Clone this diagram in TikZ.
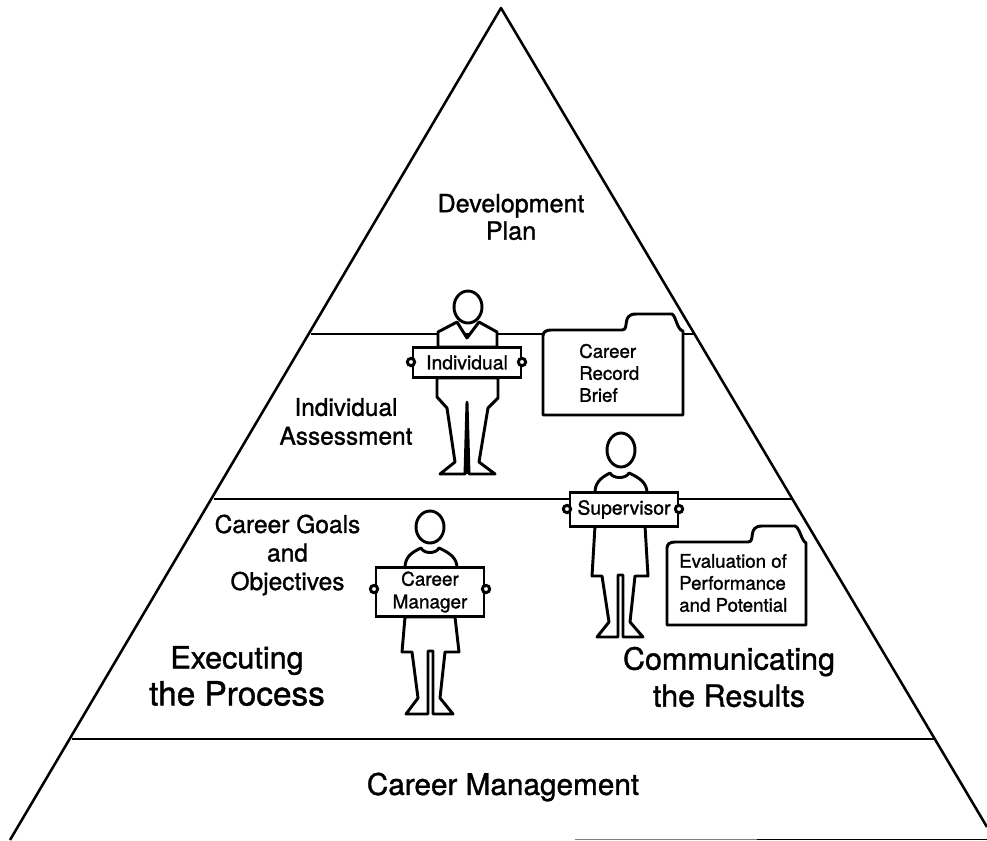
\documentclass[tikz,border=0pt]{standalone}
\usepackage{fontspec}
\setmainfont[FakeBold=1.2]{TeX Gyre Heros}
\tikzset{
 edge/.style={line width=1.9pt,line join=round},
 thick line/.style={line width=2.1pt,line join=round},
 fig/.style={line width=2.2pt,line join=round,fill=white},
 ring/.style={circle,draw,line width=2.2pt,fill=white,inner sep=0pt,minimum size=5.5pt},
 sign/.style={rectangle,draw,line width=2.2pt,fill=white,inner sep=0pt,align=center,font=\fontsize{14.5}{17}\selectfont},
 lab/.style={align=center,inner sep=0pt,font=\fontsize{18.4}{21.4}\selectfont},
 doc/.style={align=left,inner sep=0pt,font=\fontsize{14}{16.5}\selectfont},
 big/.style={align=center,inner sep=0pt,font=\fontsize{22.9}{27.8}\selectfont},
}
\begin{document}
\begin{tikzpicture}[x=0.75pt,y=-0.75pt]
\useasboundingbox (0,0) rectangle (987,840);
% pyramid
\coordinate (apex) at (501,8);
\coordinate (bl) at (10,840);
\coordinate (br) at (987,827);
\draw[edge] (bl) -- (apex) -- (br);
\coordinate (a1) at (311,334); \coordinate (a2) at (694,334);
\coordinate (b1) at (214,499); \coordinate (b2) at (793,499);
\coordinate (c1) at (72,739); \coordinate (c2) at (934,739);
\draw[thick line] (a1) -- (a2);
\draw[thick line] (b1) -- (b2);
\draw[thick line] (c1) -- (c2);
\coordinate (f1) at (575,839.2); \coordinate (f2) at (757,839.2); \coordinate (f3) at (987,839.2);
\draw[line width=1pt,gray] (f1) -- (f2);
\draw[line width=1pt] (f2) -- (f3);
% folder 1
\draw[fig] (543,415) -- (543,336) .. controls (543,332) and (546,330) .. (551,330) -- (622,330) .. controls (630,330) and (621,314) .. (636,314) -- (672,314) .. controls (676,316) and (677,330) .. (683,331) -- (683,415) -- cycle;
\node[doc] (n1) at (579,373) [anchor=west] {Career\\Record\\Brief};
% individual
\draw[fig] (437,378) -- (437,397) -- (447,408) -- (455,462) -- (440,474) -- (465,474) -- (467,402) -- (469,474) -- (495,474) -- (479,462) -- (488,408) -- (498,398) -- (498,378) -- cycle;
\draw[line width=1.5pt] (467,402) -- (467,474);
\draw[fig] (438,347) -- (438,332) -- (457,322) -- (467,338) -- (479,322) -- (497,332) -- (497,347) -- cycle;
\draw[fig] (468,307) ellipse (14 and 16);
\node[sign,minimum width=81pt,minimum height=23pt] (s1) at (467,362.5) {Individual};
\node[ring] (r1) at (411,362) {};
\node[ring] (r2) at (522,362) {};
% career manager
\draw[fig] (405,617) -- (402,652) -- (412,652) -- (418,698) -- (406,714) -- (428,714) -- (428,651) -- (433,651) -- (433,714) -- (453,714) -- (440,698) -- (445,652) -- (459,652) -- (455,617) -- cycle;
\draw[fig] (405,568) .. controls (405,558) and (410,553) .. (421,548) .. controls (424,554) and (436,554) .. (439,548) .. controls (450,553) and (457,558) .. (457,568) -- cycle;
\draw[fig] (430,527) ellipse (14 and 16);
\node[sign,minimum width=81pt,minimum height=37pt,font=\fontsize{14.2}{17}\selectfont] (s2) at (430,592) {Career\\Manager};
\node[ring] (r3) at (374,589) {};
\node[ring] (r4) at (486,589) {};
% supervisor
\draw[fig] (595,526) -- (592,576) -- (602,576) -- (609,622) -- (597,637) -- (618,637) -- (618,575) -- (623,575) -- (623,637) -- (643,637) -- (630,622) -- (635,576) -- (648,576) -- (645,526) -- cycle;
\draw[fig] (595,493) .. controls (595,483) and (600,478) .. (610,473) .. controls (613,479) and (626,479) .. (629,473) .. controls (640,478) and (647,483) .. (647,493) -- cycle;
\draw[fig] (621,450) ellipse (14 and 17);
\node[sign,minimum width=81pt,minimum height=25pt] (s3) at (624,509.5) {Supervisor};
\node[ring] (r5) at (567,509) {};
\node[ring] (r6) at (679,509) {};
% folder 2
\draw[fig] (667,625) -- (667,548) .. controls (667,544) and (670,542) .. (675,542) -- (748,542) .. controls (756,542) and (747,526) .. (762,526) -- (795,526) .. controls (800,528) and (801,540) .. (806,543) -- (806,625) -- cycle;
\node[doc] (n2) at (679,583) [anchor=west] {Evaluation of\\Performance\\and Potential};
% labels
\node[lab,font=\fontsize{18.8}{20.6}\selectfont] (t1) at (511,217) {Development\\Plan};
\node[lab,font=\fontsize{18.3}{21.6}\selectfont] (t2) at (346,421.5) {Individual\\Assessment};
\node[lab] (t3) at (287.5,555) {Career Goals\\and\\Objectives};
\node[big] (t4) at (237,676) {Executing\hspace{3pt}\\{\fontsize{25}{27.8}\selectfont the Process}};
\node[big] (t5) at (729,677) {Communicating\\the Results};
\node[lab,font=\fontsize{22.3}{24}\selectfont] (t6) at (503,787) {Career Management};
\end{tikzpicture}
\end{document}
